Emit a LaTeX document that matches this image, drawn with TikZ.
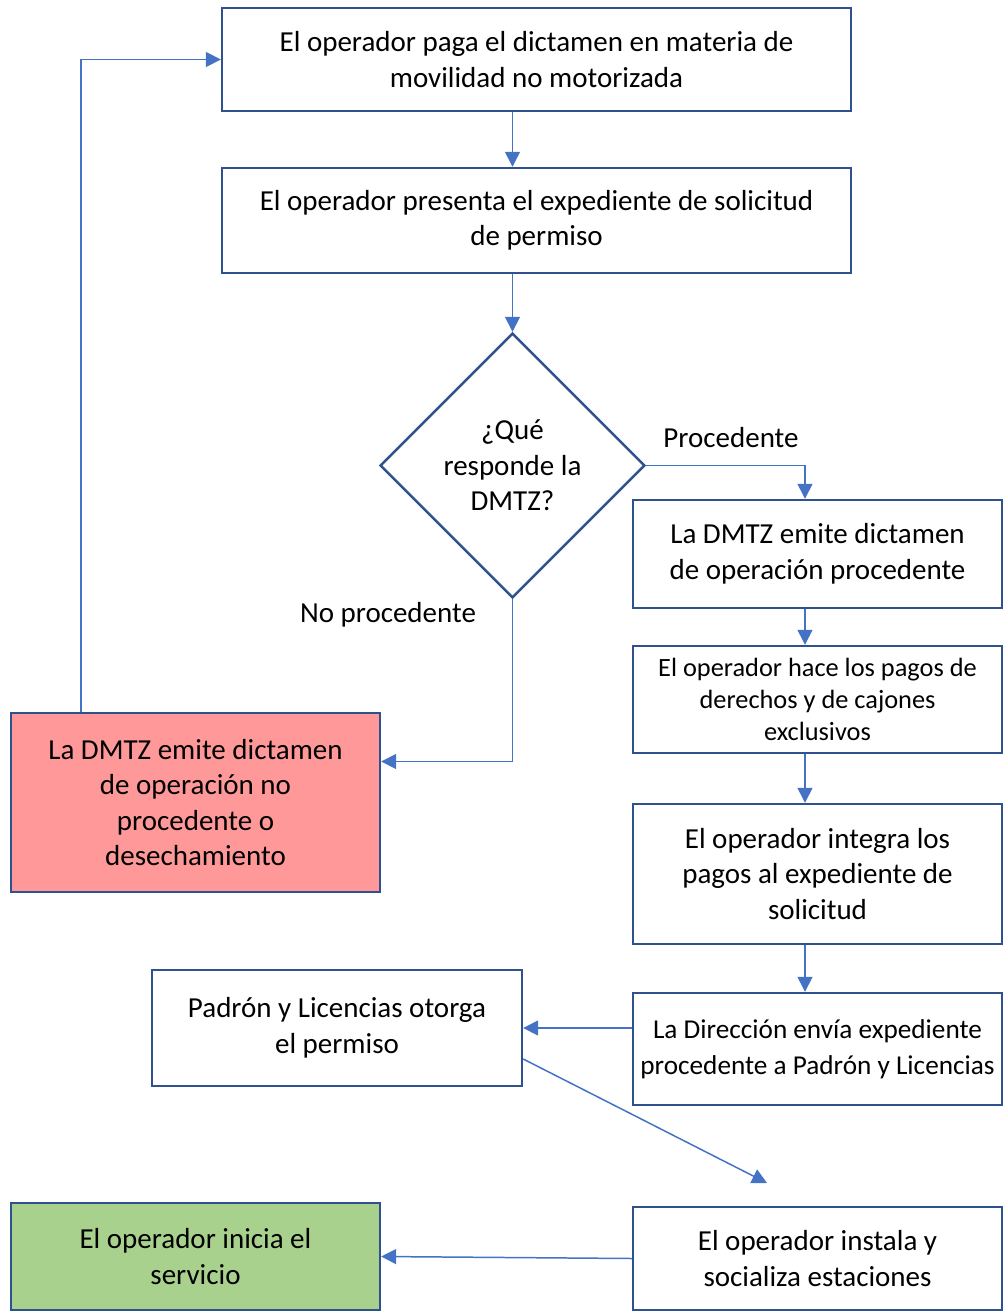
\documentclass[tikz,border=0pt]{standalone}
\usepackage{fontspec}
\setmainfont{Carlito}
\usetikzlibrary{shapes.geometric,arrows.meta}
\definecolor{boxblue}{HTML}{2F528F}
\definecolor{lineblue}{HTML}{4472C4}
\definecolor{rejectred}{HTML}{FF9999}
\definecolor{startgreen}{HTML}{A9D18E}

\begin{document}
\begin{tikzpicture}
        [x=0.02cm, y=-0.02cm,
        box/.style={rectangle, draw=boxblue, line width=1.4pt, minimum width=7.38cm, align=center, inner sep=1pt, font=\fontsize{16.5}{20.2}\selectfont},
        widebox/.style={box, minimum width=12.58cm},
        question/.style={diamond, draw=boxblue, line width=1.4pt, minimum width=5.3cm, minimum height=5.3cm, inner sep=0pt, align=center, font=\fontsize{16.5}{20.2}\selectfont},
        flow/.style={lineblue, line width=0.85pt, -{Triangle[length=8.5pt, width=8.5pt]}},
        tag/.style={font=\fontsize{16.5}{20.2}\selectfont}]

        \useasboundingbox (0,0) rectangle (1005,1311);

        \node[widebox, minimum height=2.06cm] (pago) at (536.5,59.5) {El operador paga el dictamen en materia de\\movilidad no motorizada};
        \node[widebox, minimum height=2.10cm] (expediente) at (536.5,220.5) {El operador presenta el expediente de solicitud\\de permiso};
        \node[question] (decision) at (512.5,465.5) {¿Qué\\responde la\\DMTZ?};
        \node[box, minimum height=2.16cm] (procede) at (817.5,554) {La DMTZ emite dictamen\\de operación procedente};
        \node[box, minimum height=2.14cm, font=\fontsize{15}{18.4}\selectfont] (pagos) at (817.5,699.5) {El operador hace los pagos de\\derechos y de cajones\\exclusivos};
        \node[box, minimum height=2.80cm] (integra) at (817.5,874) {El operador integra los\\pagos al expediente de\\solicitud};
        \node[box, minimum height=2.24cm, font=\fontsize{15.5}{20.2}\selectfont] (envia) at (817.5,1049) {La Dirección envía expediente\\procedente a Padrón y Licencias};
        \node[box, minimum height=2.32cm, minimum width=7.4cm] (padron) at (337,1028) {Padrón y Licencias otorga\\el permiso};
        \node[box, minimum height=2.06cm] (instala) at (817.5,1258.5) {El operador instala y\\socializa estaciones};
        \node[box, minimum height=3.58cm, fill=rejectred] (rechazo) at (195.5,802.5) {La DMTZ emite dictamen\\de operación no\\procedente o\\desechamiento};
        \node[box, minimum height=2.14cm, fill=startgreen] (inicio) at (195.5,1256.5) {El operador inicia el\\servicio};

        % column of the right-hand arrows and free end of the diagonal
        \coordinate (col) at (805,0);
        \coordinate (diagtip) at (767,1183);

        % labels of the two answers
        \node[tag] (procedente) at (731,438) {Procedente};
        \node[tag] (noprocedente) at (388,615) {No procedente};

        % main flow
        \draw[flow] (pago.south -| decision.north) -- (expediente.north -| decision.north);
        \draw[flow] (expediente.south -| decision.north) -- (decision.north);
        \draw[flow] (decision.east) -| (procede.north -| col);
        \draw[flow] (procede.south -| col) -- (pagos.north -| col);
        \draw[flow] (pagos.south -| col) -- (integra.north -| col);
        \draw[flow] (integra.south -| col) -- (envia.north -| col);
        \draw[flow] (envia.west |- padron.east) -- (padron.east);
        \draw[flow] ([yshift=-0.62cm]padron.east) -- (diagtip);
        \draw[flow] (instala.west) -- (inicio.east);

        % rejected branch and return to the start
        \draw[flow] (decision.south) |- ([yshift=0.82cm]rechazo.east);
        \draw[flow] ([xshift=-2.29cm]rechazo.north) |- (pago.west);

\end{tikzpicture}
\end{document}
